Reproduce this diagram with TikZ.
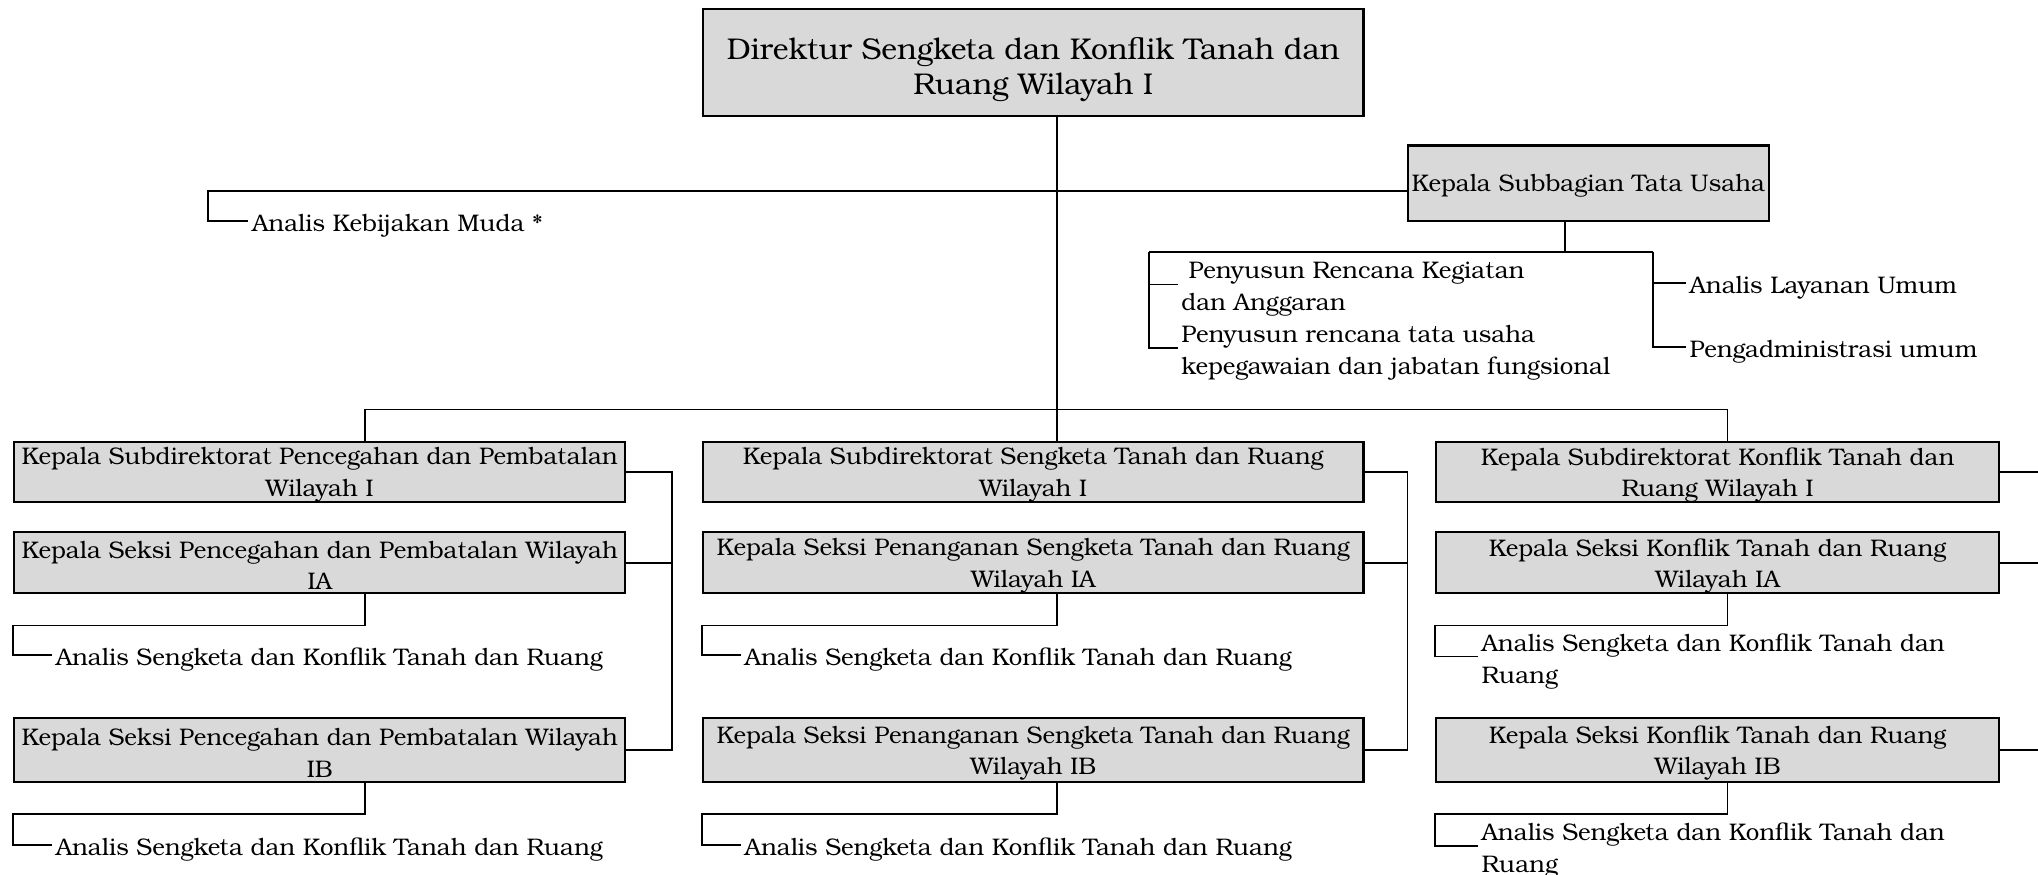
\documentclass[tikz,border=0pt]{standalone}
\usepackage{fontspec}
\setmainfont{texgyrebonum}[Extension=.otf,UprightFont=*-regular,BoldFont=*-bold]
\usetikzlibrary{calc}
\definecolor{boxgray}{HTML}{D9D9D9}
\begin{document}
\begin{tikzpicture}[x=0.65pt,y=-0.65pt,line width=0.85pt,
  bx/.style 2 args={draw=black,line width=1.1pt,fill=boxgray,inner sep=0pt,
     minimum width=#1*0.65pt,minimum height=#2*0.65pt},
  bt/.style={inner sep=0pt,align=center,yshift=-1.5pt,font=\fontsize{12}{15.6}\selectfont},
  btbig/.style={bt,yshift=-2.2pt,font=\fontsize{15}{17.6}\selectfont},
  lbl/.style={anchor=west,inner sep=1.5pt,align=left,yshift=-2.4pt,font=\fontsize{12}{16}\selectfont},
  tick/.style={yshift=2.4pt}]
\useasboundingbox (0,0) rectangle (1568,673);
% coordinates
\coordinate (c1) at (281,0);
\coordinate (c2) at (813,0);
\coordinate (c3) at (1329,0);
\coordinate (r1) at (517,0);
\coordinate (r2) at (1083,0);
\coordinate (r3) at (1568,0);
\coordinate (bus) at (0,315);
\coordinate (akc) at (160,147);
\coordinate (tub) at (0,194);
\coordinate (tuc) at (1204,0);
\coordinate (tul) at (884,0);
\coordinate (tur) at (1272,0);
% boxes
\node[bx={508}{82},label={[btbig]center:{Direktur Sengketa dan Konflik Tanah dan\\Ruang Wilayah I}}] (dir) at (795,48) {};
\node[bx={278}{58},label={[bt]center:{Kepala Subbagian Tata Usaha}}] (tu) at (1222,141) {};
\node[bx={470}{46},label={[bt]center:{Kepala Subdirektorat Pencegahan dan Pembatalan\\Wilayah I}}] (s1) at (246,363) {};
\node[bx={470}{47},label={[bt]center:{Kepala Seksi Pencegahan dan Pembatalan Wilayah\\IA}}] (s1a) at (246,433) {};
\node[bx={470}{49},label={[bt]center:{Kepala Seksi Pencegahan dan Pembatalan Wilayah\\IB}}] (s1b) at (246,577) {};
\node[bx={508}{46},label={[bt]center:{Kepala Subdirektorat Sengketa Tanah dan Ruang\\Wilayah I}}] (s2) at (795,363) {};
\node[bx={508}{47},label={[bt]center:{Kepala Seksi Penanganan Sengketa Tanah dan Ruang\\Wilayah IA}}] (s2a) at (795,433) {};
\node[bx={508}{49},label={[bt]center:{Kepala Seksi Penanganan Sengketa Tanah dan Ruang\\Wilayah IB}}] (s2b) at (795,577) {};
\node[bx={433}{46},label={[bt]center:{Kepala Subdirektorat Konflik Tanah dan\\Ruang Wilayah I}}] (s3) at (1321.5,363) {};
\node[bx={433}{47},label={[bt]center:{Kepala Seksi Konflik Tanah dan Ruang\\Wilayah IA}}] (s3a) at (1321.5,433) {};
\node[bx={433}{49},label={[bt]center:{Kepala Seksi Konflik Tanah dan Ruang\\Wilayah IB}}] (s3b) at (1321.5,577) {};
% labels
\node[lbl] (akm) at (191,170) {Analis Kebijakan Muda *};
\node[lbl] (pr1) at (906,219) {\hspace*{0.3em}Penyusun Rencana Kegiatan\\dan Anggaran};
\node[lbl] (pr2) at (906,268) {Penyusun rencana tata usaha\\kepegawaian dan jabatan fungsional};
\node[lbl] (alu) at (1297,218) {Analis Layanan Umum};
\node[lbl] (pau) at (1297,267) {Pengadministrasi umum};
\node[lbl] (l1a) at (40,504) {Analis Sengketa dan Konflik Tanah dan Ruang};
\node[lbl] (l1b) at (40,650) {Analis Sengketa dan Konflik Tanah dan Ruang};
\node[lbl] (l2a) at (570,504) {Analis Sengketa dan Konflik Tanah dan Ruang};
\node[lbl] (l2b) at (570,650) {Analis Sengketa dan Konflik Tanah dan Ruang};
\node[lbl] (l3a) at (1137,505) {Analis Sengketa dan Konflik Tanah dan\\Ruang};
\node[lbl] (l3b) at (1137,651) {Analis Sengketa dan Konflik Tanah dan\\Ruang};
% tick end points on the labels
\foreach \n in {akm,pr1,pr2,alu,pau,l1a,l1b,l2a,l2b,l3a,l3b}
  \coordinate (\n t) at ([tick]\n.west);
% connectors
\draw (dir.south -| c2) -- (s2.north -| c2);
\draw (tu.west |- akc) -- (akc) |- (akmt);
\draw (tu.south -| tuc) -- (tuc |- tub);
\draw (tul |- tub) -- (tur |- tub);
\draw (tul |- tub) |- (pr2t);
\draw (tul |- pr1t) -- (pr1t);
\draw (tur |- tub) |- (paut);
\draw (tur |- alut) -- (alut);
\draw (c1 |- bus) -- (c3 |- bus);
\draw (c1 |- bus) -- (s1.north -| c1);
\draw (c3 |- bus) -- (s3.north -| c3);
\draw (s1.east) -- (s1.east -| r1) -- (s1b.east -| r1) -- (s1b.east);
\draw (s1a.east) -- (s1a.east -| r1);
\draw (s2.east) -- (s2.east -| r2) -- (s2b.east -| r2) -- (s2b.east);
\draw (s2a.east) -- (s2a.east -| r2);
\draw (s3.east) -- (s3.east -| r3);
\draw (s3a.east) -- (s3a.east -| r3);
\draw (s3b.east) -- (s3b.east -| r3);
\draw (s1a.south -| c1) -- ++(0,24) -| (s1a.west |- l1at) -- (l1at);
\draw (s1b.south -| c1) -- ++(0,24) -| (s1b.west |- l1bt) -- (l1bt);
\draw (s2a.south -| c2) -- ++(0,24) -| (s2a.west |- l2at) -- (l2at);
\draw (s2b.south -| c2) -- ++(0,24) -| (s2b.west |- l2bt) -- (l2bt);
\draw (s3a.south -| c3) -- ++(0,24) -| (s3a.west |- l3at) -- (l3at);
\draw (s3b.south -| c3) -- ++(0,24) -| (s3b.west |- l3bt) -- (l3bt);
\end{tikzpicture}
\end{document}
